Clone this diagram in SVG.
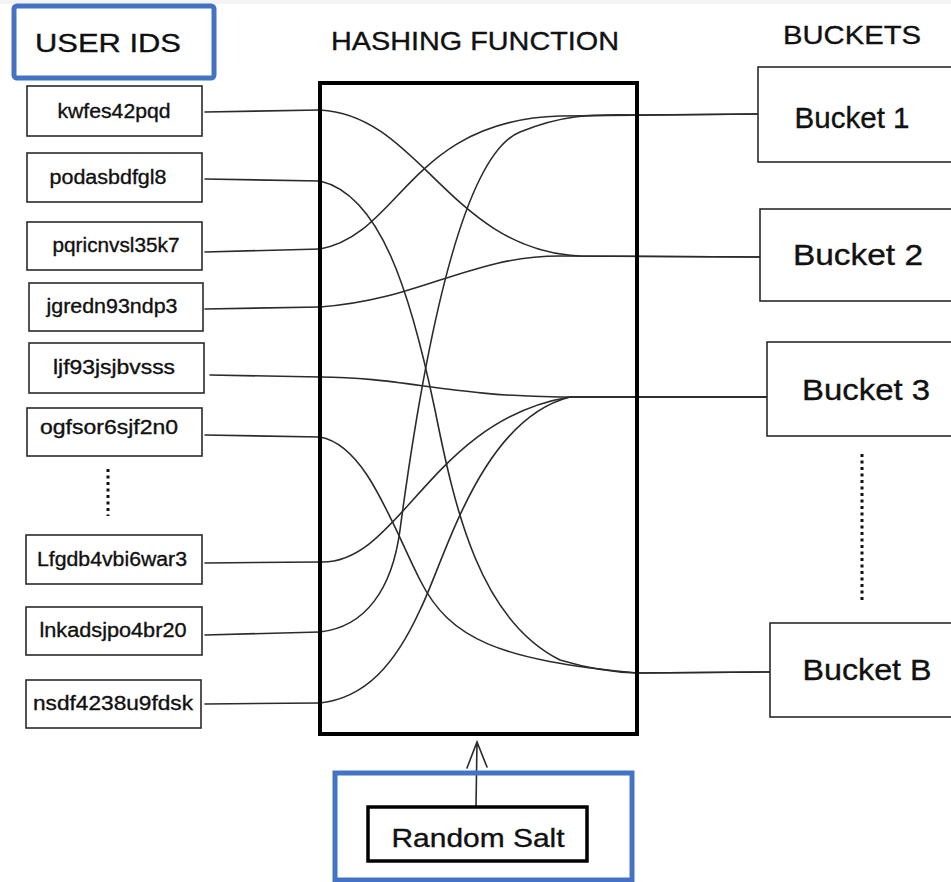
<svg xmlns="http://www.w3.org/2000/svg" width="951" height="882" viewBox="0 0 951 882">
<style>
.bg{fill:#ffffff}
.idbox{fill:#ffffff;stroke:#2a2a2a;stroke-width:1.6}
.bkbox{fill:#ffffff;stroke:#2a2a2a;stroke-width:1.6}
.hash{fill:none;stroke:#000;stroke-width:4}
.salt{fill:#ffffff;stroke:#000;stroke-width:3.5}
.blue{fill:none;stroke:#4472c4;stroke-width:5}
.lbl{font-family:"Liberation Sans",Arial,sans-serif;fill:#111;text-anchor:middle;stroke:#111;stroke-width:0.35}
.id{font-size:20px}
.bk{font-size:29px}
.hdr{font-size:26px}
.conn{fill:none;stroke:#2b2b2b;stroke-width:1.6;stroke-linecap:round}
.dots{fill:none;stroke:#111;stroke-width:3;stroke-dasharray:3 3.5}
</style>
<rect class="bg" x="0" y="0" width="951" height="882"/>
<rect x="0" y="0" width="951" height="4" fill="#f4f4f4"/>

<g id="title-user-ids">
<rect class="blue" x="14" y="6" width="200" height="72" rx="3"/>
<text class="lbl hdr" x="108" y="52" textLength="146" lengthAdjust="spacingAndGlyphs">USER IDS</text>
</g>
<g id="title-hashing">
<text class="lbl hdr" x="475" y="50" textLength="288" lengthAdjust="spacingAndGlyphs">HASHING FUNCTION</text>
</g>
<g id="title-buckets">
<text class="lbl hdr" x="852" y="44" textLength="138" lengthAdjust="spacingAndGlyphs">BUCKETS</text>
</g>

<g id="connectors">
<path class="conn" d="M205,112 L320,110"/>
<path class="conn" d="M205,179 L320,181"/>
<path class="conn" d="M205,252 L320,249"/>
<path class="conn" d="M205,309 L320,307"/>
<path class="conn" d="M210,375 L320,377"/>
<path class="conn" d="M205,435 L320,437"/>
<path class="conn" d="M205,563 L320,562"/>
<path class="conn" d="M205,635 L320,632"/>
<path class="conn" d="M205,704 L320,703"/>
<path class="conn" d="M320,110 C420,115 450,250 580,256 L760,257"/>
<path class="conn" d="M320,181 C380,195 410,290 435,410 C455,510 480,620 560,660 Q600,672 637,673 L770,672"/>
<path class="conn" d="M320,249 C400,235 410,120 560,116 L758,114"/>
<path class="conn" d="M320,307 C420,300 470,256 560,256 L760,257"/>
<path class="conn" d="M320,377 C400,377 450,396 560,397 L767,397"/>
<path class="conn" d="M320,437 C365,445 390,520 420,580 C450,640 500,660 637,673 L770,672"/>
<path class="conn" d="M320,562 C400,565 430,420 570,397 L767,397"/>
<path class="conn" d="M320,632 C365,627 392,590 400,530 C412,440 450,160 520,132 C569,112 600,115 637,115 L758,114"/>
<path class="conn" d="M320,703 C365,698 395,665 420,610 C445,560 480,420 570,397 L767,397"/>
<path class="conn" d="M476,806 L477,742 M467,768 L477,742 L487,767" stroke-width="1.8"/>
</g>

<g id="hashing-function">
<rect class="hash" x="320" y="83" width="317" height="651"/>
</g>

<g id="id-kwfes42pqd"><rect class="idbox" x="27" y="86" width="175" height="50"/><text class="lbl id" x="114" y="118" textLength="113" lengthAdjust="spacingAndGlyphs">kwfes42pqd</text></g>
<g id="id-podasbdfgl8"><rect class="idbox" x="27" y="153" width="175" height="49"/><text class="lbl id" x="108" y="184" textLength="117" lengthAdjust="spacingAndGlyphs">podasbdfgl8</text></g>
<g id="id-pqricnvsl35k7"><rect class="idbox" x="27" y="222" width="175" height="48"/><text class="lbl id" x="116" y="252" textLength="127" lengthAdjust="spacingAndGlyphs">pqricnvsl35k7</text></g>
<g id="id-jgredn93ndp3"><rect class="idbox" x="29" y="283" width="174" height="48"/><text class="lbl id" x="112" y="313" textLength="131" lengthAdjust="spacingAndGlyphs">jgredn93ndp3</text></g>
<g id="id-ljf93jsjbvsss"><rect class="idbox" x="29" y="343" width="175" height="50"/><text class="lbl id" x="114" y="374" textLength="122" lengthAdjust="spacingAndGlyphs">ljf93jsjbvsss</text></g>
<g id="id-ogfsor6sjf2n0"><rect class="idbox" x="27" y="408" width="175" height="48"/><text class="lbl id" x="109" y="434" textLength="138" lengthAdjust="spacingAndGlyphs">ogfsor6sjf2n0</text></g>
<g id="id-dots"><path class="dots" d="M108,469 L108,516"/></g>
<g id="id-Lfgdb4vbi6war3"><rect class="idbox" x="26" y="535" width="176" height="49"/><text class="lbl id" x="112" y="566" textLength="150" lengthAdjust="spacingAndGlyphs">Lfgdb4vbi6war3</text></g>
<g id="id-lnkadsjpo4br20"><rect class="idbox" x="26" y="607" width="176" height="48"/><text class="lbl id" x="113" y="637" textLength="147" lengthAdjust="spacingAndGlyphs">lnkadsjpo4br20</text></g>
<g id="id-nsdf4238u9fdsk"><rect class="idbox" x="26" y="680" width="175" height="48"/><text class="lbl id" x="113" y="710" textLength="160" lengthAdjust="spacingAndGlyphs">nsdf4238u9fdsk</text></g>

<g id="bucket-1"><rect class="bkbox" x="758" y="67" width="200" height="95"/><text class="lbl bk" x="852" y="128" textLength="115" lengthAdjust="spacingAndGlyphs">Bucket 1</text></g>
<g id="bucket-2"><rect class="bkbox" x="760" y="209" width="200" height="92"/><text class="lbl bk" x="858" y="265" textLength="130" lengthAdjust="spacingAndGlyphs">Bucket 2</text></g>
<g id="bucket-3"><rect class="bkbox" x="767" y="342" width="200" height="94"/><text class="lbl bk" x="866" y="400" textLength="128" lengthAdjust="spacingAndGlyphs">Bucket 3</text></g>
<g id="bucket-dots"><path class="dots" d="M862,454 L862,601"/></g>
<g id="bucket-B"><rect class="bkbox" x="770" y="623" width="200" height="94"/><text class="lbl bk" x="867" y="680" textLength="129" lengthAdjust="spacingAndGlyphs">Bucket B</text></g>

<g id="random-salt">
<rect class="blue" x="335" y="773" width="297" height="107"/>
<rect class="salt" x="368" y="807" width="219" height="54"/>
<text class="lbl" x="478" y="847" font-size="25" textLength="173" lengthAdjust="spacingAndGlyphs">Random Salt</text>
</g>
</svg>
